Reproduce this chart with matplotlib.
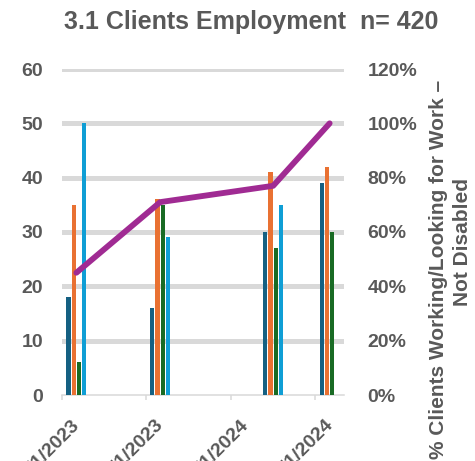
import numpy as np
import matplotlib
matplotlib.use("Agg")
import matplotlib.pyplot as plt
import matplotlib.dates as mdates
from matplotlib.ticker import FixedLocator
from matplotlib.transforms import offset_copy

plt.rcParams["font.family"] = ["Liberation Sans", "DejaVu Sans"]

# Dados
datas = np.array(["2023-02-01", "2023-08-01", "2024-04-01", "2024-08-01"], dtype="datetime64[D]")
serie1 = [18, 16, 30, 39]
serie2 = [35, 36, 41, 42]
serie3 = [6, 35, 27, 30]
serie4 = [50, 29, 35, np.nan]
pct_trabalho = [0.45, 0.71, 0.77, 1.00]

ticks_datas = np.array(["2023-01-01", "2023-07-01", "2024-01-01", "2024-07-01"], dtype="datetime64[D]")
ticks_rotulos = ["1/1/2023", "7/1/2023", "1/1/2024", "7/1/2024"]
xlim_datas = np.array(["2023-01-01", "2024-09-01"], dtype="datetime64[D]")

# Cores (tema Office)
AZUL = "#156082"
LARANJA = "#E97132"
VERDE = "#196B24"
CIANO = "#0F9ED5"
ROXO = "#A02B93"
CINZA_TXT = "#595959"
CINZA_GRADE = "#D9D9D9"

fig = plt.figure(figsize=(4.75, 4.61), dpi=100)
ax = fig.add_axes([62/475, 1 - 395/461, (344 - 62)/475, (395 - 69)/461])
ax2 = ax.twinx()

x = mdates.date2num(datas)
passo = 11.4
largura = 9.0
series = [serie1, serie2, serie3, serie4]
cores = [AZUL, LARANJA, VERDE, CIANO]
for i, (s, c) in enumerate(zip(series, cores)):
    ax.bar(x + (i - 1.5) * passo, s, width=largura, color=c, zorder=3)

# linhas de grade (sem a linha do zero)
yticks = np.arange(0, 61, 10)
for yt in yticks[1:]:
    ax.axhline(yt, color=CINZA_GRADE, lw=3.6, zorder=1)

ax.set_ylim(0, 60)
ax.set_xlim(mdates.date2num(xlim_datas))
ax.yaxis.set_major_locator(FixedLocator(yticks))
ax.tick_params(axis="y", length=0, pad=13.5, labelsize=14, labelcolor=CINZA_TXT)
for t in ax.get_yticklabels():
    t.set_fontweight("bold")

ax.set_xticks(mdates.date2num(ticks_datas))
ax.set_xticklabels([])
ax.tick_params(axis="x", length=3.6, width=1.1, color=CINZA_GRADE, direction="out")

# rotulos de data inclinados (cortados na borda como no original)
trans = offset_copy(ax.get_xaxis_transform(), fig=fig, x=15, y=-27, units="dots")
for d, lab in zip(mdates.date2num(ticks_datas), ticks_rotulos):
    ax.text(d, 0, lab, transform=trans, rotation=45, ha="right", va="center",
            rotation_mode="anchor", fontsize=14, fontweight="bold",
            color=CINZA_TXT, clip_on=False)

for sp in ["top", "left", "right"]:
    ax.spines[sp].set_visible(False)
ax.spines["bottom"].set_color(CINZA_GRADE)
ax.spines["bottom"].set_linewidth(1.1)

# Eixo secundario: percentual
ax2.plot(x, pct_trabalho, color=ROXO, lw=4.2, solid_capstyle="round",
         solid_joinstyle="round", zorder=5)
ax2.set_ylim(0, 1.2)
ax2.set_yticks(np.arange(0, 1.21, 0.2))
ax2.set_yticklabels(["{:.0f}%".format(v * 100) for v in np.arange(0, 1.21, 0.2)])
ax2.tick_params(axis="y", length=0, pad=17, labelsize=14, labelcolor=CINZA_TXT)
for t in ax2.get_yticklabels():
    t.set_fontweight("bold")
for sp in ax2.spines.values():
    sp.set_visible(False)

# Titulo e rotulo do eixo direito
fig.text(251/475, 1 - 29/461, "3.1 Clients Employment  n= 420", ha="center",
         va="baseline", fontsize=18, fontweight="bold", color=CINZA_TXT)
fig.text(438/475, 1 - 269/461, "% Clients Working/Looking for Work \u2013",
         rotation=90, ha="center", va="center", fontsize=15,
         fontweight="bold", color=CINZA_TXT)
fig.text(462/475, 1 - 242/461, "Not Disabled", rotation=90, ha="center",
         va="center", fontsize=15, fontweight="bold", color=CINZA_TXT)

fig.savefig("out.png", dpi=100, facecolor="white")
